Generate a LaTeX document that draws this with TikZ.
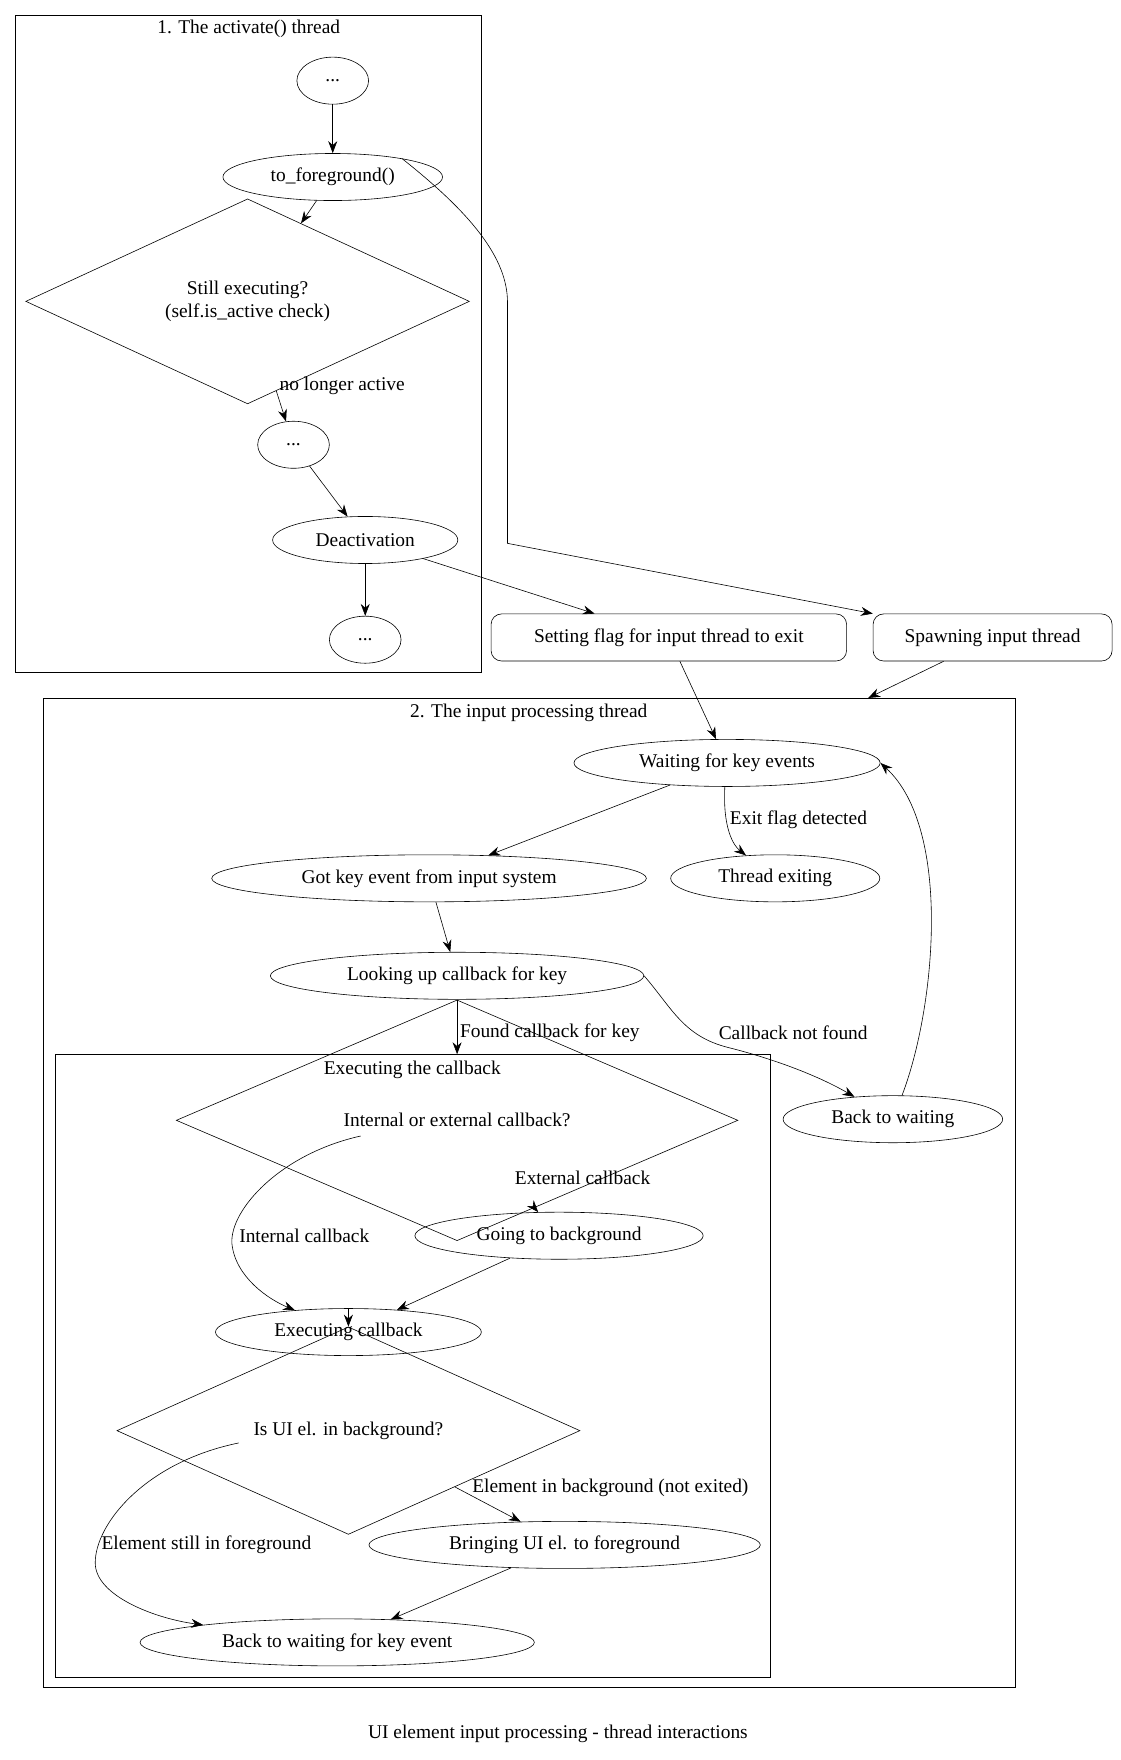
\documentclass[tikz,border=0pt]{standalone}
\usepackage{fontspec}
\setmainfont{Liberation Serif}
\usetikzlibrary{shapes.geometric,arrows.meta}
\begin{document}
\begin{tikzpicture}[x=0.75pt,y=-0.75pt,
 every node/.style={font=\fontsize{13}{15}\selectfont, inner sep=1pt},
 el/.style={draw,ellipse,minimum height=31.5pt},
 dia/.style={draw,diamond,aspect=5},
 box/.style={draw,rounded corners=7pt,minimum height=31.5pt,inner xsep=6pt},
 ar/.style={draw,-{Stealth[length=8pt,width=6pt]}},
 lab/.style={fill=none}]
\useasboundingbox (0,0) rectangle (1000,1571);
% clusters
\draw (14,14) rectangle (430,600);
\node at (222,26) {1. The activate() thread};
\draw (39,623) rectangle (906,1506);
\node at (472,636) {2. The input processing thread};
\draw (49,941) rectangle (688,1497);
\node at (368,955) {Executing the callback};
% nodes
\node[el,minimum width=48pt] (d1) at (297,72) {...};
\node[el,minimum width=147pt] (tofg) at (297,158) {to\_foreground()};
\node[draw,diamond,minimum width=297pt,minimum height=67pt,inner sep=0pt,align=center] (still) at (221,269) {Still executing?\\(self.is\_active check)};
\node[el,minimum width=48pt] (d2) at (262,397) {...};
\node[el,minimum width=124pt] (deact) at (326,482) {Deactivation};
\node[el,minimum width=48pt] (d3) at (326,571) {...};
\node[box,minimum width=238pt] (setflag) at (597,569) {Setting flag for input thread to exit};
\node[box,minimum width=160pt] (spawn) at (886,569) {Spawning input thread};
\node[el,minimum width=205pt] (wait) at (649,681) {Waiting for key events};
\node[el,minimum width=291pt] (gotkey) at (383,784) {Got key event from input system};
\node[el,minimum width=140pt] (exiting) at (692,784) {Thread exiting};
\node[el,minimum width=250pt] (lookup) at (408,871) {Looking up callback for key};
\node[el,minimum width=147pt] (backw) at (797,999) {Back to waiting};
\node[draw,diamond,minimum width=376pt,minimum height=32pt,inner sep=0pt] (intext) at (408,1000) {Internal or external callback?};
\node[el,minimum width=193pt] (goingbg) at (499,1103) {Going to background};
\node[el,minimum width=178pt] (execcb) at (311,1189) {Executing callback};
\node[draw,diamond,minimum width=310pt,minimum height=32pt,inner sep=0pt] (isui) at (311,1277) {Is UI el. in background?};
\node[el,minimum width=262pt] (bringing) at (504,1379) {Bringing UI el. to foreground};
\node[el,minimum width=264pt] (backkey) at (301,1466) {Back to waiting for key event};
\node at (498,1548) {UI element input processing - thread interactions};
% edges
\draw[ar] (d1) -- (tofg);
\draw[ar] (tofg) -- (still);
\draw[ar] (still) -- (d2);
\node[anchor=west] at (248,344) {no longer active};
\draw[ar] (d2) -- (deact);
\draw[ar] (deact) -- (d3);
\draw[ar] (deact) -- (setflag);
\draw[ar] (tofg.15) .. controls (420,190) and (453,230) .. (453,270) -- (453,485) -- (spawn.north west);
\coordinate (c2top) at (775,623);
\draw[ar] (spawn) -- (c2top);
\draw[ar] (setflag) -- (wait);
\draw[ar] (wait) -- (gotkey);
\draw[ar] (647,702) .. controls (645,740) and (655,755) .. (exiting);
\node[anchor=west] at (650,732) {Exit flag detected};
\draw[ar] (gotkey) -- (lookup);
\coordinate (c3top) at (408,941);
\draw[ar] (lookup) -- (c3top);
\node[anchor=west] at (409,922) {Found callback for key};
\draw[ar] (lookup.east) .. controls (600,900) and (610,925) .. (650,935) .. controls (690,945) and (730,960) .. (backw);
\node[anchor=west] at (640,922) {Callback not found};
\draw[ar] (backw) .. controls (835,900) and (850,740) .. (wait.east);
\draw[ar] (intext) -- (goingbg);
\node[anchor=west] at (458,1051) {External callback};
\draw[ar] (322,1014) .. controls (250,1030) and (205,1080) .. (207,1110) .. controls (210,1140) and (240,1160) .. (execcb);
\node[anchor=west] at (212,1103) {Internal callback};
\draw[ar] (goingbg) -- (execcb);
\draw[ar] (execcb) -- (isui);
\draw[ar] (isui) -- (bringing);
\node[anchor=west] at (420,1328) {Element in background (not exited)};
\draw[ar] (213,1288) .. controls (130,1305) and (85,1360) .. (85,1395) .. controls (85,1425) and (140,1445) .. (backkey);
\node[anchor=west] at (89,1379) {Element still in foreground};
\draw[ar] (bringing) -- (backkey);
\end{tikzpicture}
\end{document}
